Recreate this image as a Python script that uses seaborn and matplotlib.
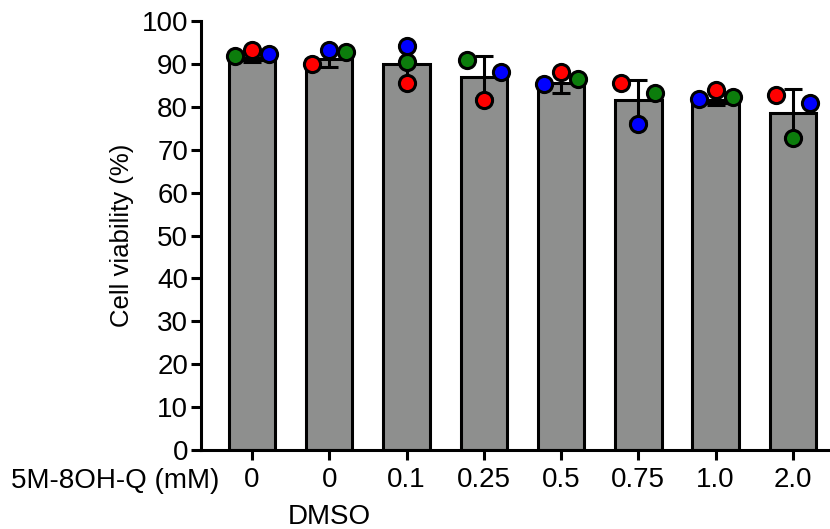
import numpy as np
import pandas as pd
import matplotlib
matplotlib.use("Agg")
import matplotlib.pyplot as plt
import seaborn as sns

# groups on the x axis (first "0" is untreated, second "0" is the DMSO vehicle)
groups = ["0", "0 DMSO", "0.1", "0.25", "0.5", "0.75", "1.0", "2.0"]
tick_labels = ["0", "0", "0.1", "0.25", "0.5", "0.75", "1.0", "2.0"]

# bar heights and SD
means = [90.9, 91.2, 89.9, 86.9, 85.6, 81.5, 81.0, 78.5]
sds = [0.5, 1.9, 4.4, 4.9, 2.4, 4.7, 0.6, 5.6]

# individual replicates (red / green / blue dots)
rep_red = [93.2, 89.9, 85.5, 81.7, 88.0, 85.5, 83.9, 82.8]
rep_green = [91.8, 92.7, 90.4, 90.9, 86.4, 83.3, 82.4, 72.7]
rep_blue = [92.3, 93.2, 94.2, 88.2, 85.3, 76.0, 81.8, 80.8]

# horizontal slot of each dot inside its bar (-1 left, 0 centre, 1 right)
slot_red = [0, -1, 0, 0, 0, -1, 0, -1]
slot_green = [-1, 1, 0, -1, 1, 1, 1, 0]
slot_blue = [1, 0, 0, 1, -1, 0, -1, 1]

sns.set_theme(style="ticks")
plt.rcParams['font.family'] = ['Liberation Sans', 'DejaVu Sans']
plt.rcParams['text.color'] = 'black'
plt.rcParams['axes.labelcolor'] = 'black'
plt.rcParams['xtick.color'] = 'black'
plt.rcParams['ytick.color'] = 'black'

df = pd.DataFrame({"group": groups, "viability": means})

fig = plt.figure(figsize=(8.3, 5.29), dpi=100)
ax = fig.add_axes([0.2418, 0.1493, 0.7582, 0.8110])

sns.barplot(data=df, x="group", y="viability", order=groups, color="#8e8f8e",
            saturation=1, width=0.6, edgecolor="black", linewidth=2.2,
            errorbar=None, ax=ax, zorder=2)

pos = np.arange(len(groups))
ax.errorbar(pos, means, yerr=sds, fmt="none", ecolor="black", elinewidth=2.2,
            capsize=6.5, capthick=2.2, zorder=3)

step = 0.22
for vals, slots, col in [(rep_green, slot_green, "#0c7d0c"),
                         (rep_red, slot_red, "#ff0000"),
                         (rep_blue, slot_blue, "#0000ff")]:
    ax.scatter(pos + step * np.array(slots), vals, s=135, color=col,
               edgecolor="black", linewidth=2.2, zorder=4, clip_on=False)

ax.set_xlim(-0.664, 7.48)
ax.set_ylim(0, 100)
ax.set_yticks(np.arange(0, 101, 10))
ax.set_xticks(pos)
ax.set_xticklabels(tick_labels)
ax.set_xlabel("")
ax.set_ylabel("Cell viability (%)", fontsize=18.5)
ax.yaxis.set_label_coords(-0.106, 0.5)

sns.despine(ax=ax)
for s in ["left", "bottom"]:
    ax.spines[s].set_linewidth(2.2)
    ax.spines[s].set_color("black")
ax.tick_params(axis="both", width=2.2, length=7, labelsize=20, pad=2)
ax.tick_params(axis="x", pad=5)

tr = ax.get_xaxis_transform()
ax.text(-0.42, -0.072, "5M-8OH-Q (mM)", transform=tr, ha="right", va="center", fontsize=20)
ax.text(1, -0.155, "DMSO", transform=tr, ha="center", va="center", fontsize=20)

fig.savefig("out.png", dpi=100)
